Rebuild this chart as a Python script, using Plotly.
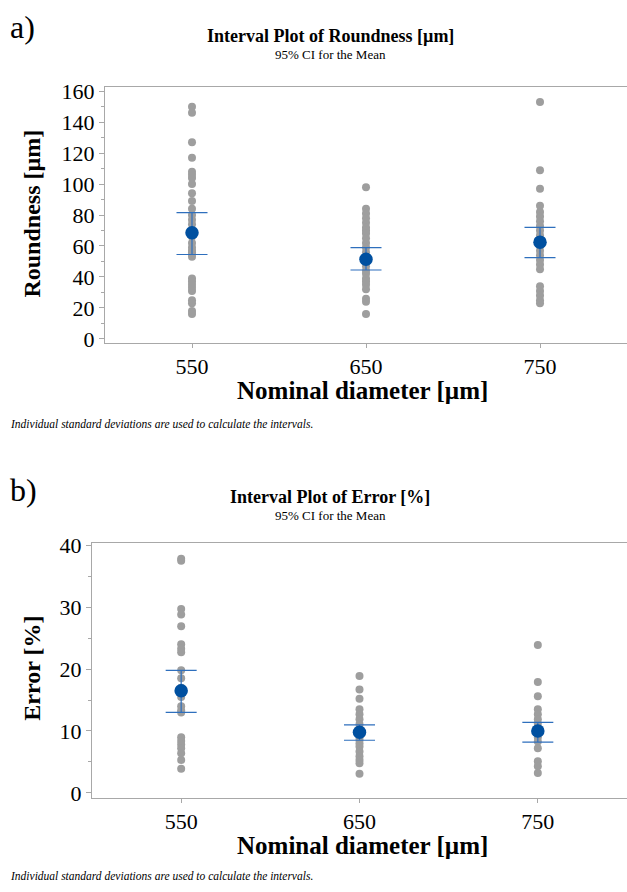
import plotly.graph_objects as go

W, H = 627, 892

categories = [550, 650, 750]

# Roundness [µm] individual values
round_550 = [150, 146, 127, 117, 108, 106, 104, 100, 94, 89, 84, 80, 77, 74, 70, 66, 62,
             59, 57, 56, 55, 53, 39, 37, 35, 33, 31, 25, 23, 18, 16]
round_650 = [98, 84, 81, 78, 75, 72, 70, 68, 65, 62, 59, 56, 53, 50, 47, 44, 42, 39, 37,
             35, 32, 26, 24, 16]
round_750 = [153, 109, 97, 86, 82, 79, 76, 73, 70, 67, 64, 60, 57, 54, 51, 48, 45, 34,
             31, 28, 25, 23]
round_mean = [68.5, 51.5, 62.5]
round_ci_low = [54.5, 44.5, 52.5]
round_ci_high = [81.5, 59.0, 72.0]

# Error [%] individual values
err_550 = [37.8, 37.5, 29.7, 28.8, 26.9, 24.0, 23.3, 22.7, 19.8, 18.5, 17.0, 15.5, 14.0,
           13.3, 13.0, 9.0, 8.4, 7.8, 7.2, 6.4, 5.3, 3.9]
err_650 = [18.9, 16.7, 15.2, 13.5, 12.7, 11.9, 11.1, 10.4, 9.8, 9.1, 8.6, 8.0, 7.5, 6.7,
           5.9, 5.3, 4.8, 3.1]
err_750 = [23.9, 17.9, 15.6, 13.5, 12.7, 11.9, 11.2, 10.5, 9.8, 9.0, 8.3, 7.2, 5.1, 4.3, 3.2]
err_mean = [16.5, 9.8, 10.0]
err_ci_low = [13.0, 8.5, 8.2]
err_ci_high = [19.8, 11.0, 11.4]

GRAY = "#9e9e9e"
BLUE = "#0050a0"
CI = "#2e6fbd"
AX = "#a8a8a8"
SERIF = "Liberation Serif, Times New Roman, serif"


def py(pix):
    return 1 - pix / H


fig = go.Figure()


def add_group(vals_lists, means, lo, hi, xa, ya):
    xs, ys = [], []
    for c, vals in zip(categories, vals_lists):
        xs += [c] * len(vals)
        ys += vals
    fig.add_trace(go.Scatter(x=xs, y=ys, mode="markers", xaxis=xa, yaxis=ya,
                             marker=dict(color=GRAY, size=8, line=dict(width=0)),
                             showlegend=False, hoverinfo="y"))
    fig.add_trace(go.Scatter(x=categories, y=means, mode="markers", xaxis=xa, yaxis=ya,
                             marker=dict(color=BLUE, size=13.5, line=dict(width=0)),
                             error_y=dict(type="data", symmetric=False,
                                          array=[h - m for h, m in zip(hi, means)],
                                          arrayminus=[m - l for m, l in zip(means, lo)],
                                          color=CI, thickness=1.2, width=15.5),
                             showlegend=False))


add_group([round_550, round_650, round_750], round_mean, round_ci_low, round_ci_high, "x", "y")
add_group([err_550, err_650, err_750], err_mean, err_ci_low, err_ci_high, "x2", "y2")

xcommon = dict(range=[500, 800], tickvals=categories, ticktext=[str(c) for c in categories],
               showline=True, linecolor=AX, linewidth=1.2, mirror=True,
               ticks="outside", ticklen=4, tickcolor=AX, showgrid=False, zeroline=False,
               tickfont=dict(family=SERIF, size=22, color="black"), fixedrange=True)

fig.update_layout(
    width=W, height=H, margin=dict(l=0, r=0, t=0, b=0),
    paper_bgcolor="white", plot_bgcolor="white",
    xaxis=dict(domain=[105 / W, 1.0], anchor="y", **xcommon),
    yaxis=dict(domain=[py(340), py(79)], anchor="x", range=[-2.5, 162.5],
               tickvals=[0, 20, 40, 60, 80, 100, 120, 140, 160],
               showline=True, linecolor=AX, linewidth=1.2, mirror=False,
               ticks="outside", ticklen=5, tickcolor=AX, showgrid=False, zeroline=False,
               minor=dict(dtick=10, ticks="outside", ticklen=3, tickcolor=AX),
               tickfont=dict(family=SERIF, size=22, color="black")),
    xaxis2=dict(domain=[92 / W, 1.0], anchor="y2", **xcommon),
    yaxis2=dict(domain=[py(805), py(545)], anchor="x2", range=[-0.8, 40.3],
                tickvals=[0, 10, 20, 30, 40],
                showline=True, linecolor=AX, linewidth=1.2, mirror=False,
                ticks="outside", ticklen=5, tickcolor=AX, showgrid=False, zeroline=False,
                minor=dict(dtick=5, ticks="outside", ticklen=3, tickcolor=AX),
                tickfont=dict(family=SERIF, size=22, color="black")),
)

ann = []


def text(x, ypix, s, size, bold=False, italic=False, xanchor="center", angle=0):
    if bold:
        s = "<b>" + s + "</b>"
    if italic:
        s = "<i>" + s + "</i>"
    ann.append(dict(x=x / W, y=py(ypix), xref="paper", yref="paper", text=s, showarrow=False,
                    xanchor=xanchor, yanchor="middle", textangle=angle,
                    font=dict(family=SERIF, size=size, color="black")))


# Panel a
text(8, 17, "a)", 32, xanchor="left")
text(330, 27, "Interval Plot of Roundness [µm]", 18, bold=True)
text(330, 45, "95% CI for the Mean", 13)
text(32, 208, "Roundness [µm]", 24, bold=True, angle=-90)
text(362, 389, "Nominal diameter [µm]", 25, bold=True)
text(8, 423, "Individual standard deviations are used to calculate the intervals.", 11.5,
     italic=True, xanchor="left")

# Panel b
text(8, 490, "b)", 32, xanchor="left")
text(330, 498, "Interval Plot of Error [%]", 18, bold=True)
text(330, 516, "95% CI for the Mean", 13)
text(32, 673, "Error [%]", 24, bold=True, angle=-90)
text(362, 854, "Nominal diameter [µm]", 25, bold=True)
text(8, 885, "Individual standard deviations are used to calculate the intervals.", 11.5,
     italic=True, xanchor="left")

fig.update_layout(annotations=ann)

fig.write_html("out.html")
